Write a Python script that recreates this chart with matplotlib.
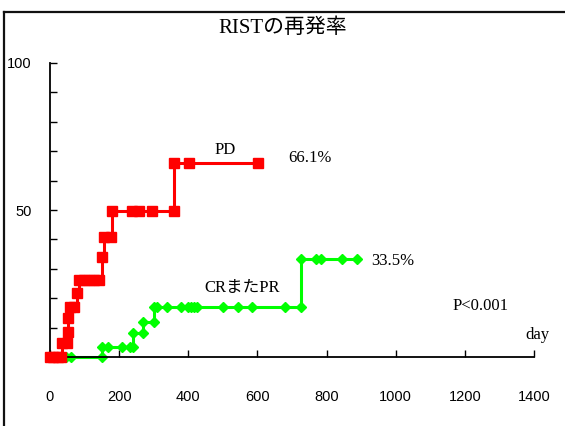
import matplotlib
matplotlib.use("Agg")
import matplotlib.pyplot as plt
from matplotlib.lines import Line2D

# PD group: time (day) and cumulative recurrence (%) at each marker
pd_days = [0, 10, 22, 33, 35, 50, 52, 52, 58, 68, 78, 84, 98, 112, 126, 142,
           151, 157, 177, 180, 238, 258, 296, 359, 359, 403, 603]
pd_rate = [0, 0, 0, 0, 4.8, 4.8, 8.5, 13.3, 17.0, 17.0, 21.8, 26.2, 26.2, 26.2,
           26.2, 26.2, 34.0, 40.8, 40.8, 49.7, 49.7, 49.7, 49.7, 49.7, 66.1,
           66.1, 66.1]

# CR or PR group
cr_days = [5, 45, 62, 150, 150, 168, 209, 232, 241, 241, 270, 270, 301, 301,
           310, 339, 379, 400, 408, 416, 426, 501, 545, 585, 681, 725, 725,
           768, 783, 846, 887]
cr_rate = [0, 0, 0, 0, 3.4, 3.4, 3.4, 3.4, 3.4, 8.2, 8.2, 11.9, 11.9, 17.0,
           17.0, 17.0, 17.0, 17.0, 17.0, 17.0, 17.0, 17.0, 17.0, 17.0, 17.0,
           17.0, 33.5, 33.5, 33.5, 33.5, 33.5]

x_ticks = [0, 200, 400, 600, 800, 1000, 1200, 1400]
y_ticks = [0, 10, 20, 30, 40, 50, 60, 70, 80, 90, 100]
y_labels = ["", "", "", "", "", "50", "", "", "", "", "100"]

serif = ["Liberation Serif", "Noto Sans CJK JP"]
sans = ["Liberation Sans", "DejaVu Sans"]

W, H = 565, 426
fig = plt.figure(figsize=(W / 100, H / 100), dpi=100)
ax = fig.add_axes([50 / W, 1 - 357 / H, (534 - 50) / W, (357 - 63) / H])

ax.plot(pd_days, pd_rate, drawstyle="steps-post", color="#ff0000", lw=2.2,
        marker="s", ms=6.5, clip_on=False, zorder=3)
ax.plot(cr_days, cr_rate, drawstyle="steps-post", color="#00ff00", lw=2.2,
        marker="D", ms=5.5, clip_on=False, zorder=2)

ax.set_xlim(0, 1400)
ax.set_ylim(0, 100)
for s in ["top", "right"]:
    ax.spines[s].set_visible(False)
for s in ["left", "bottom"]:
    ax.spines[s].set_linewidth(1.3)

ax.set_xticks(x_ticks)
ax.set_yticks(y_ticks)
ax.set_yticklabels(y_labels)
ax.tick_params(axis="x", direction="in", length=5, width=1, pad=24, labelsize=10.5)
ax.tick_params(axis="y", direction="in", length=5, width=1, pad=13, labelsize=10.5)
for lab in ax.get_xticklabels() + ax.get_yticklabels():
    lab.set_family(sans)

ax.text(506, 70.4, "PD", ha="center", va="center", family=serif, fontsize=12)
ax.text(752, 67.7, "66.1%", ha="center", va="center", family=serif, fontsize=12)
ax.text(555, 23.5, "CRまたPR", ha="center", va="center", family=serif, fontsize=12)
ax.text(992, 32.7, "33.5%", ha="center", va="center", family=serif, fontsize=12)
ax.text(1244, 17.3, "P<0.001", ha="center", va="center", family=serif, fontsize=12)
ax.text(1411, 7.5, "day", ha="center", va="center", family=serif, fontsize=12)

fig.text(283 / W, 1 - 28 / H, "RISTの再発率", ha="center", va="center",
         family=serif, fontsize=15)

# outer frame (left and top edges visible)
fig.add_artist(Line2D([4 / W, 4 / W], [0, 1 - 12 / H], color="#111111", lw=1.6))
fig.add_artist(Line2D([4 / W, 1], [1 - 12 / H, 1 - 12 / H], color="#111111", lw=1.6))

fig.savefig("out.png", dpi=100)
